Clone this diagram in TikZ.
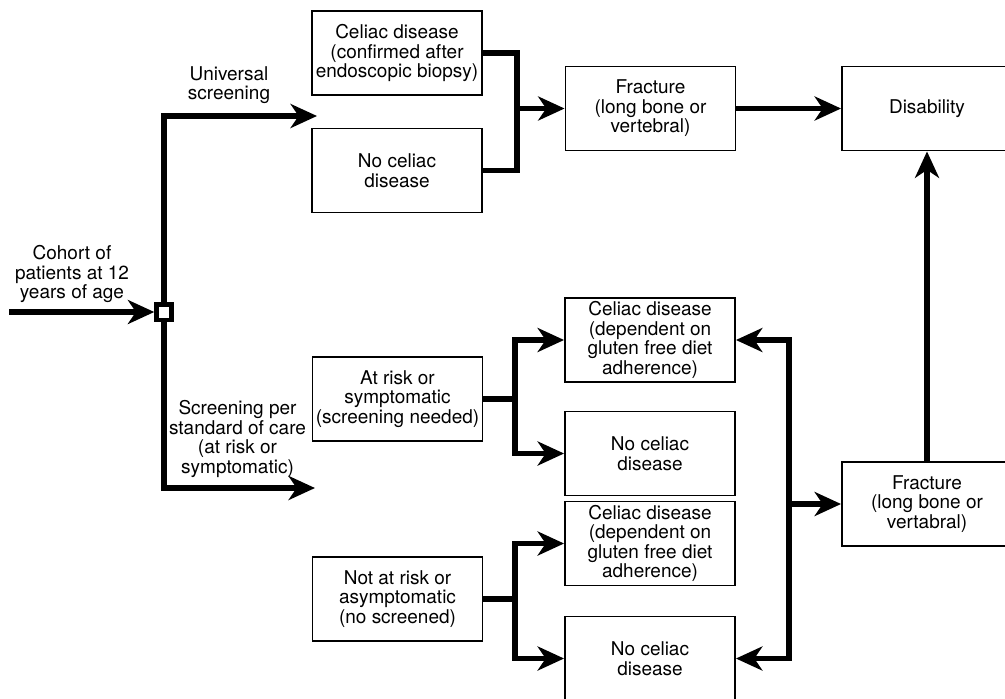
\documentclass[tikz,border=0pt]{standalone}
\usepackage{fontspec}
\setmainfont{TeX Gyre Heros}
\usetikzlibrary{arrows.meta}

\begin{document}
\begin{tikzpicture}[x=0.025cm,y=-0.025cm,
box/.style={draw,line width=1.3pt,minimum width=4.25cm,minimum height=2.1cm,inner sep=0pt,align=center,font=\fontsize{13.5}{13.9}\selectfont},
lbl/.style={align=center,inner sep=0pt,font=\fontsize{13.5}{13.9}\selectfont},
bar/.style={line width=3.6pt},
arr/.style={line width=3.6pt,-{Stealth[length=0.66cm,width=0.6cm,inset=0.2cm]}}]

\useasboundingbox (0,0) rectangle (1005,698);
\clip (0,0) rectangle (1005,698);

\node[box] (0) at (397,53) {Celiac disease\\(confirmed after\\endoscopic biopsy)};
\node[box] (1) at (397,170.5) {No celiac\\disease};
\node[box] (2) at (650.5,108.5) {Fracture\\(long bone or\\vertebral)};
\node[box] (3) at (927,108.5) {Disability};
\node[box] (4) at (397.5,399) {At risk or\\symptomatic\\(screening needed)};
\node[box] (5) at (397.5,599) {Not at risk or\\asymptomatic\\(no screened)};
\node[box] (6) at (650,340) {Celiac disease\\(dependent on\\gluten free diet\\adherence)};
\node[box] (7) at (650,453.5) {No celiac\\disease};
\node[box] (8) at (650,543.5) {Celiac disease\\(dependent on\\gluten free diet\\adherence)};
\node[box] (9) at (650,658.5) {No celiac\\disease};
\node[box] (10) at (927,504) {Fracture\\(long bone or\\vertabral)};

\node[lbl] (11) at (72,274) {Cohort of\\patients at 12\\years of age};
\node[draw,line width=3pt,fill=white,minimum size=0.38cm,inner sep=0pt] (12) at (164,312) {};
\node[lbl] (13) at (229,85) {Universal\\screening};
\node[lbl] (14) at (237.5,439) {Screening per\\standard of care\\(at risk or\\symptomatic)};

\coordinate (a) at (9,312);
\coordinate (b) at (317,116);
\coordinate (c) at (315,488);
\coordinate (d) at (517,108.5);
\coordinate (e) at (515,399);
\coordinate (f) at (515,599);
\coordinate (g) at (789,504);

\draw[arr] (a) -- (12);
\draw[arr] (12) |- (b);
\draw[arr] (12) |- (c);

\draw[bar] (0) -| (d) |- (1);
\draw[arr] (d) -- (2);
\draw[arr] (2) -- (3);

\draw[bar] (4) -- (e);
\draw[arr] (e) |- (6);
\draw[arr] (e) |- (7);
\draw[bar] (5) -- (f);
\draw[arr] (f) |- (8);
\draw[arr] (f) |- (9);

\draw[arr] (g) |- (6);
\draw[arr] (g) |- (9);
\draw[arr] (g) -- (10);
\draw[arr] (10) -- (3);

\end{tikzpicture}
\end{document}
